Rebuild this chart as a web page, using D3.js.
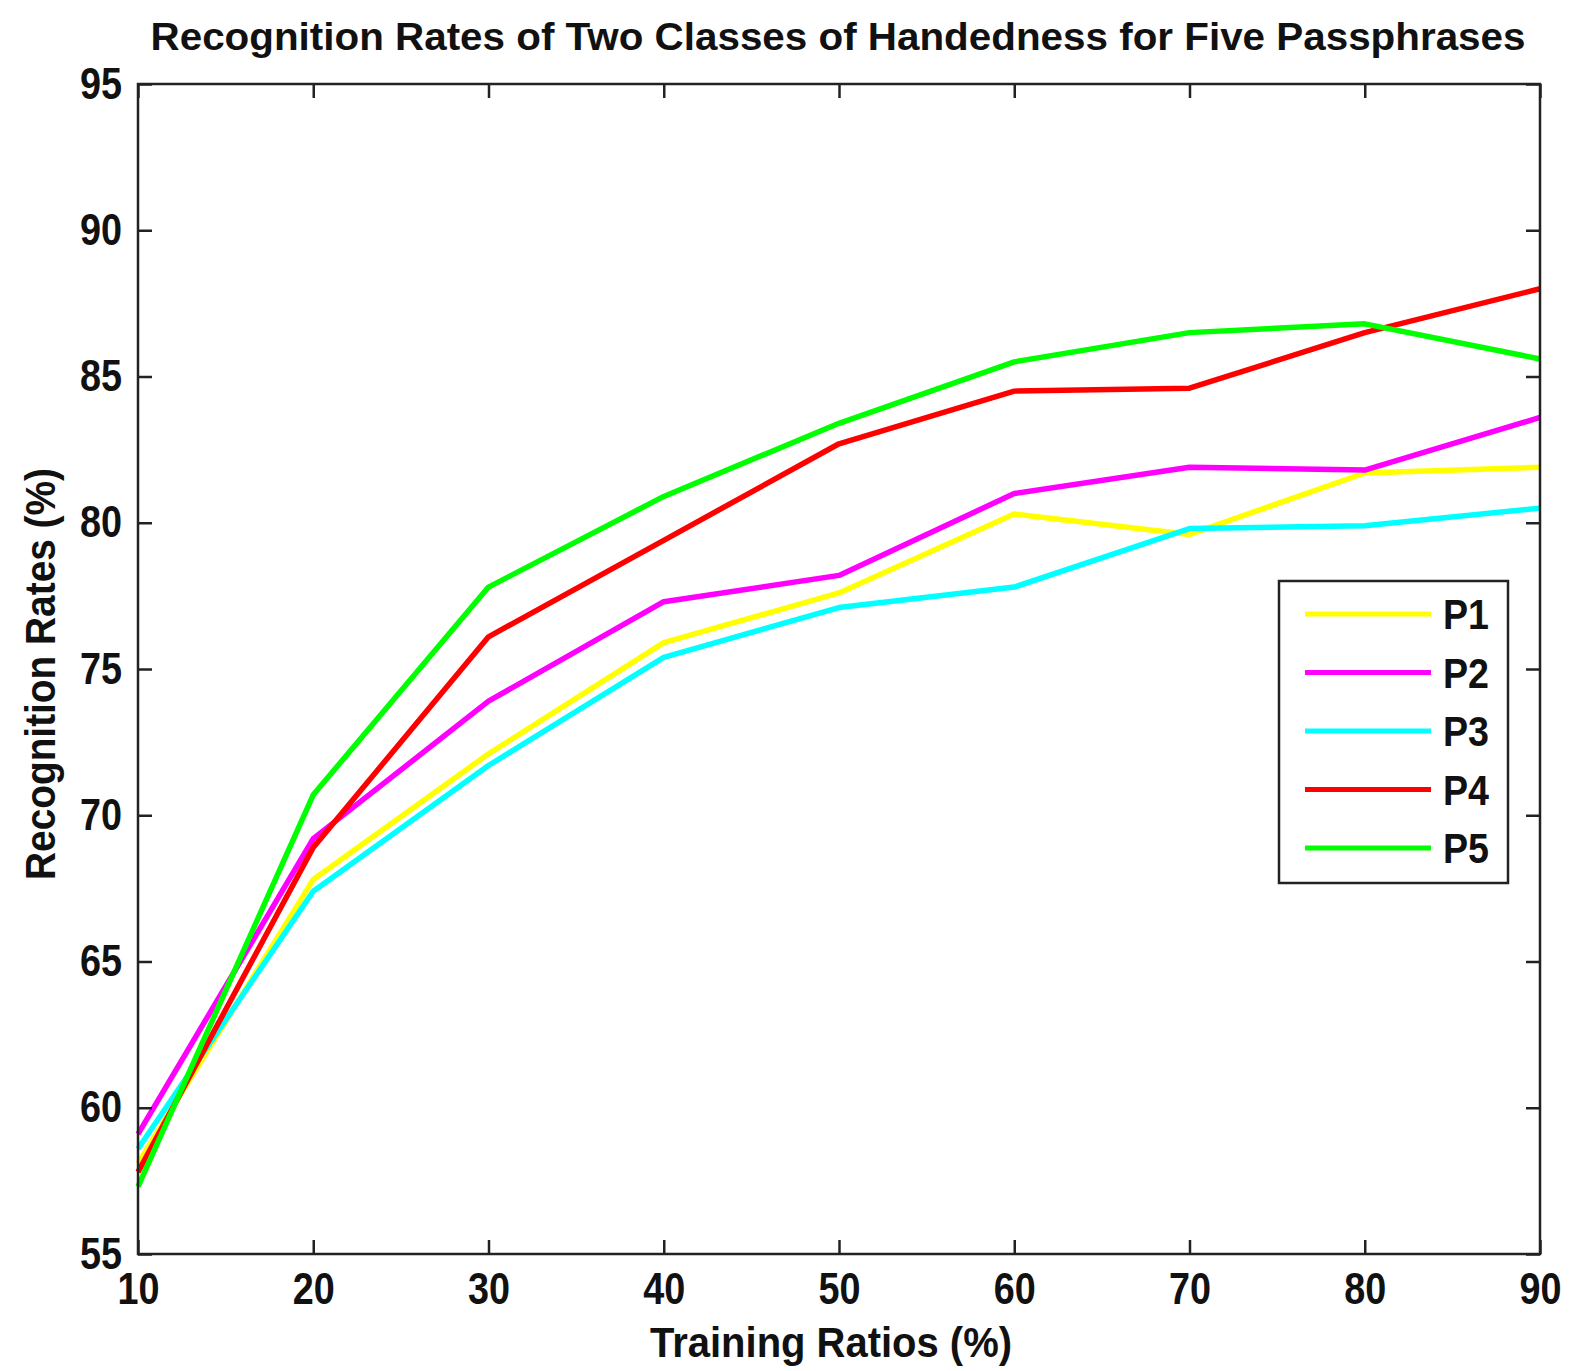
<!DOCTYPE html>
<html>
<head>
<meta charset="utf-8">
<script src="https://cdn.jsdelivr.net/npm/d3@7"></script>
<style>
  body { margin: 0; background: white; }
  svg { display: block; font-family: "Liberation Sans", Arial, sans-serif; }
</style>
</head>
<body>
<script>
// training ratios (%)
const ratios = [10, 20, 30, 40, 50, 60, 70, 80, 90];
const yTicks = [55, 60, 65, 70, 75, 80, 85, 90, 95];

// recognition rates (%)
const p1 = [58.1, 67.8, 72.1, 75.9, 77.6, 80.3, 79.6, 81.7, 81.9];
const p2 = [59.1, 69.2, 73.9, 77.3, 78.2, 81.0, 81.9, 81.8, 83.6];
const p3 = [58.6, 67.4, 71.7, 75.4, 77.1, 77.8, 79.8, 79.9, 80.5];
const p4 = [57.8, 68.9, 76.1, 79.4, 82.7, 84.5, 84.6, 86.5, 88.0];
const p5 = [57.3, 70.7, 77.8, 80.9, 83.4, 85.5, 86.5, 86.8, 85.6];

const names = ["P1", "P2", "P3", "P4", "P5"];
const colors = ["#ffff00", "#ff00ff", "#00ffff", "#ff0000", "#00ff00"];
const series = [p1, p2, p3, p4, p5];

const W = 1571, H = 1371;
const plotL = 138, plotR = 1540, plotT = 84, plotB = 1254;

const svg = d3.select("body").append("svg")
    .attr("width", W)
    .attr("height", H);

const x = d3.scaleLinear().domain([10, 90]).range([plotL, plotR]);
const y = d3.scaleLinear().domain([55, 95]).range([plotB, plotT]);

// lines
const line = d3.line()
    .x((d, i) => x(ratios[i]))
    .y(d => y(d));

svg.append("g")
  .selectAll("path")
  .data(series)
  .join("path")
    .attr("fill", "none")
    .attr("stroke", (d, i) => colors[i])
    .attr("stroke-width", 5.5)
    .attr("stroke-linejoin", "round")
    .attr("d", line);

// axes: ticks inside, on all four sides
const tickLen = 14;
const axisColor = "#222";

svg.append("g")
    .attr("transform", `translate(0,${plotB})`)
    .call(d3.axisBottom(x).tickValues(ratios).tickSizeInner(-tickLen).tickSizeOuter(0).tickPadding(19))
    .call(g => g.select(".domain").remove());

svg.append("g")
    .attr("transform", `translate(0,${plotT})`)
    .call(d3.axisTop(x).tickValues(ratios).tickSizeInner(-tickLen).tickSizeOuter(0).tickFormat(""))
    .call(g => g.select(".domain").remove());

svg.append("g")
    .attr("transform", `translate(${plotL},0)`)
    .call(d3.axisLeft(y).tickValues(yTicks).tickSizeInner(-tickLen).tickSizeOuter(0).tickPadding(16))
    .call(g => g.select(".domain").remove());

svg.append("g")
    .attr("transform", `translate(${plotR},0)`)
    .call(d3.axisRight(y).tickValues(yTicks).tickSizeInner(-tickLen).tickSizeOuter(0).tickFormat(""))
    .call(g => g.select(".domain").remove());

svg.selectAll(".tick line")
    .attr("stroke", axisColor)
    .attr("stroke-width", 2.5);

svg.selectAll(".tick text")
    .attr("fill", "#111")
    .attr("textLength", 42)
    .attr("lengthAdjust", "spacingAndGlyphs")
    .style("font-size", "44px")
    .style("font-weight", "bold")
    .style("font-family", "'Liberation Sans', Arial, sans-serif");

svg.append("rect")
    .attr("x", plotL)
    .attr("y", plotT)
    .attr("width", plotR - plotL)
    .attr("height", plotB - plotT)
    .attr("fill", "none")
    .attr("stroke", axisColor)
    .attr("stroke-width", 2.5);

// titles
svg.append("text")
    .attr("x", 838)
    .attr("y", 50)
    .attr("text-anchor", "middle")
    .attr("textLength", 1375)
    .attr("lengthAdjust", "spacingAndGlyphs")
    .style("font-size", "39px")
    .style("font-weight", "bold")
    .attr("fill", "#111")
    .text("Recognition Rates of Two Classes of Handedness for Five Passphrases");

svg.append("text")
    .attr("x", 831)
    .attr("y", 1357)
    .attr("text-anchor", "middle")
    .attr("textLength", 362)
    .attr("lengthAdjust", "spacingAndGlyphs")
    .style("font-size", "42px")
    .style("font-weight", "bold")
    .attr("fill", "#111")
    .text("Training Ratios (%)");

svg.append("text")
    .attr("transform", "translate(55,674) rotate(-90)")
    .attr("text-anchor", "middle")
    .attr("textLength", 412)
    .attr("lengthAdjust", "spacingAndGlyphs")
    .style("font-size", "42px")
    .style("font-weight", "bold")
    .attr("fill", "#111")
    .text("Recognition Rates (%)");

// legend
const legend = svg.append("g").attr("transform", "translate(1279,581)");
legend.append("rect")
    .attr("width", 229)
    .attr("height", 302)
    .attr("fill", "white")
    .attr("stroke", axisColor)
    .attr("stroke-width", 2.5);

const item = legend.selectAll("g.item")
  .data(names)
  .join("g")
    .attr("class", "item")
    .attr("transform", (d, i) => `translate(0,${33 + i * 58.5})`);

item.append("line")
    .attr("x1", 26)
    .attr("x2", 152)
    .attr("stroke", (d, i) => colors[i])
    .attr("stroke-width", 5);

item.append("text")
    .attr("x", 164)
    .attr("dy", "0.36em")
    .attr("textLength", 46)
    .attr("lengthAdjust", "spacingAndGlyphs")
    .style("font-size", "42px")
    .style("font-weight", "bold")
    .attr("fill", "#111")
    .text(d => d);
</script>
</body>
</html>
